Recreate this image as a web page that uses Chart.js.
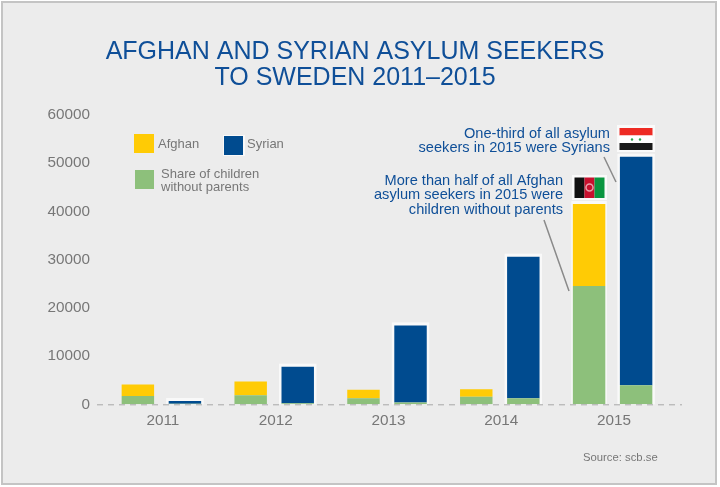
<!DOCTYPE html>
<html>
<head>
<meta charset="utf-8">
<style>
  html, body { margin: 0; padding: 0; background: #fff; }
  #wrap { position: absolute; left: 1px; top: 1px; width: 716px; height: 484px; background: #ececec; border: 2px solid #c4c4c4; box-sizing: border-box; }
  canvas { position: absolute; left: 0; top: 0; }
</style>
<script src="https://cdn.jsdelivr.net/npm/chart.js@4"></script>
</head>
<body>
<div id="wrap"></div>
<canvas id="chart" width="720" height="487" style="width:720px;height:487px"></canvas>
<script>
// --- Data ---
const years = ['2011', '2012', '2013', '2014', '2015'];
const afghanTotal = [4100, 4750, 3000, 3100, 41500];
const afghanChildren = [1700, 1900, 1250, 1550, 24500];
const syrianTotal = [680, 7800, 16350, 30600, 51300];
const syrianChildren = [100, 200, 350, 1250, 3950];
const yTicks = [0, 10000, 20000, 30000, 40000, 50000, 60000];

const titleLines = ['AFGHAN AND SYRIAN ASYLUM SEEKERS', 'TO SWEDEN 2011\u20132015'];
const syrianNote = ['One-third of all asylum', 'seekers in 2015 were Syrians'];
const afghanNote = ['More than half of all Afghan', 'asylum seekers in 2015 were', 'children without parents'];
const sourceText = 'Source: scb.se';

const BLUE = '#004b8f';
const YELLOW = '#ffcb05';
const GREEN = '#8dc07b';
const TEXT_BLUE = '#0f4f98';
const GREY = '#777777';
const FONT = '"Liberation Sans", Arial, sans-serif';

function remainder(total, part) {
    return total.map((v, i) => v - part[i]);
}

function drawLines(ctx, lines, x, y, lh, align) {
    ctx.textAlign = align;
    ctx.textBaseline = 'middle';
    lines.forEach((l, i) => ctx.fillText(l, x, y + i * lh));
}

// white glow behind the bars, the dashed base line goes on top of it
const backdrop = {
    id: 'backdrop',
    beforeDatasetsDraw(chart) {
        const ctx = chart.ctx;
        const top = chart.getDatasetMeta(3);
        const yBase = chart.scales.y.getPixelForValue(0);
        ctx.save();
        ctx.fillStyle = 'rgba(255,255,255,0.7)';
        top.data.forEach(bar => {
            ctx.fillRect(bar.x - bar.width / 2 - 2.5, bar.y - 3, bar.width + 5, yBase - bar.y + 3);
        });
        const a = chart.getDatasetMeta(1).data[4];
        ctx.fillRect(a.x - a.width / 2 - 1.5, a.y - 3, a.width + 3, yBase - a.y + 3);
        ctx.restore();
    },
    afterDatasetsDraw(chart) {
        const ctx = chart.ctx;
        const yBase = chart.scales.y.getPixelForValue(0);
        ctx.save();
        ctx.strokeStyle = '#a8a8a8';
        ctx.lineWidth = 1;
        ctx.setLineDash([6, 5]);
        ctx.beginPath();
        ctx.moveTo(97, yBase + 0.5);
        ctx.lineTo(682, yBase + 0.5);
        ctx.stroke();
        ctx.restore();
    }
};

const decorations = {
    id: 'decorations',
    afterDraw(chart) {
        const ctx = chart.ctx;
        ctx.save();

        // title
        ctx.fillStyle = TEXT_BLUE;
        ctx.font = '25px ' + FONT;
        drawLines(ctx, titleLines, 355, 52, 26.5, 'center');

        // legend
        ctx.fillStyle = YELLOW;
        ctx.fillRect(134, 134, 20, 19);
        ctx.fillStyle = 'rgba(255,255,255,0.7)';
        ctx.fillRect(223, 135, 22, 21);
        ctx.fillStyle = BLUE;
        ctx.fillRect(224, 136, 19, 19);
        ctx.fillStyle = GREEN;
        ctx.fillRect(135, 170, 19, 19);
        ctx.fillStyle = GREY;
        ctx.font = '13px ' + FONT;
        ctx.textAlign = 'left';
        ctx.textBaseline = 'middle';
        ctx.fillText('Afghan', 158, 144.5);
        ctx.fillText('Syrian', 247, 144.5);
        drawLines(ctx, ['Share of children', 'without parents'], 161, 174, 13, 'left');

        // notes
        ctx.fillStyle = TEXT_BLUE;
        ctx.font = '14.6px ' + FONT;
        drawLines(ctx, syrianNote, 610, 133.5, 14.5, 'right');
        drawLines(ctx, afghanNote, 563, 181, 14.3, 'right');

        // leader lines
        ctx.strokeStyle = '#8a8a8a';
        ctx.lineWidth = 1.5;
        ctx.beginPath();
        ctx.moveTo(604, 157);
        ctx.lineTo(616, 182);
        ctx.moveTo(544, 220);
        ctx.lineTo(569, 291);
        ctx.stroke();

        // source
        ctx.fillStyle = GREY;
        ctx.font = '11.3px ' + FONT;
        ctx.textAlign = 'left';
        ctx.fillText(sourceText, 583, 458);

        // Syrian flag
        ctx.fillStyle = 'rgba(255,255,255,0.75)';
        ctx.fillRect(617, 125, 38, 27);
        ctx.fillStyle = '#ee2b24';
        ctx.fillRect(619.5, 128, 33, 7.5);
        ctx.fillStyle = '#fff';
        ctx.fillRect(619.5, 135.5, 33, 7.5);
        ctx.fillStyle = '#1b1b1b';
        ctx.fillRect(619.5, 143, 33, 7);
        ctx.fillStyle = '#2aa24a';
        [632, 640].forEach(x => {
            ctx.beginPath();
            ctx.arc(x, 139.5, 1.2, 0, Math.PI * 2);
            ctx.fill();
        });

        // Afghan flag
        ctx.fillStyle = 'rgba(255,255,255,0.75)';
        ctx.fillRect(572, 175, 35, 25);
        ctx.fillStyle = '#111';
        ctx.fillRect(574.5, 177.5, 10, 20.5);
        ctx.fillStyle = '#c8102e';
        ctx.fillRect(584.5, 177.5, 10, 20.5);
        ctx.fillStyle = '#0a9640';
        ctx.fillRect(594.5, 177.5, 10, 20.5);
        ctx.strokeStyle = 'rgba(255,255,255,0.6)';
        ctx.lineWidth = 1.5;
        ctx.beginPath();
        ctx.arc(589.5, 187.5, 3.5, 0, Math.PI * 2);
        ctx.stroke();

        ctx.restore();
    }
};

new Chart(document.getElementById('chart'), {
    type: 'bar',
    data: {
        labels: years,
        datasets: [
            { label: 'Share of children without parents', data: afghanChildren, backgroundColor: GREEN, stack: 'afghan' },
            { label: 'Afghan', data: remainder(afghanTotal, afghanChildren), backgroundColor: YELLOW, stack: 'afghan' },
            { label: 'Share of children without parents (Syrian)', data: syrianChildren, backgroundColor: GREEN, stack: 'syrian' },
            { label: 'Syrian', data: remainder(syrianTotal, syrianChildren), backgroundColor: BLUE, stack: 'syrian' }
        ]
    },
    options: {
        responsive: false,
        animation: false,
        layout: { padding: { left: 0, right: 51, top: 114.8, bottom: 0 } },
        datasets: { bar: { categoryPercentage: 0.834, barPercentage: 0.69 } },
        plugins: { legend: { display: false }, title: { display: false }, tooltip: { enabled: false } },
        scales: {
            x: {
                stacked: true,
                afterFit(axis) { axis.height = 82.7; },
                grid: { display: false },
                border: { display: false },
                ticks: { color: GREY, font: { family: FONT, size: 15.3 }, padding: -1, labelOffset: 1.5, maxRotation: 0 }
            },
            y: {
                stacked: true,
                min: 0,
                max: 60000,
                afterBuildTicks(axis) { axis.ticks = yTicks.map(v => ({ value: v })); },
                afterFit(axis) { axis.width = 105; },
                grid: { display: false },
                border: { display: false },
                ticks: { color: GREY, font: { family: FONT, size: 15.3 }, padding: 7, callback: v => String(v) }
            }
        }
    },
    plugins: [backdrop, decorations]
});
</script>
</body>
</html>
